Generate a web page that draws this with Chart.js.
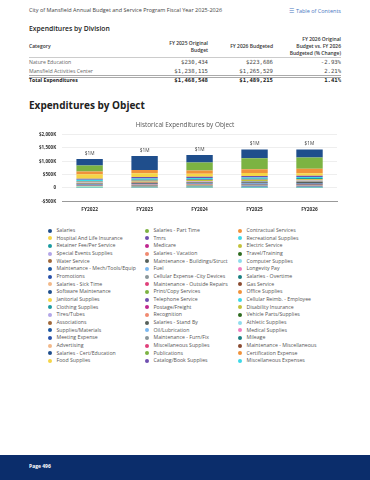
<!DOCTYPE html>
<html>
<head>
<meta charset="utf-8">
<script src="https://cdn.jsdelivr.net/npm/chart.js@4.4.1/dist/chart.umd.min.js"></script>
<style>
    body { margin: 0; width: 370px; height: 480px; position: relative; overflow: hidden; background: #fff; font-family: "Open Sans", sans-serif; }
    .t { position: absolute; white-space: nowrap; line-height: 8px; }
    .r { text-align: right; }
    .num { font-family: "DejaVu Sans Mono", monospace; font-size: 5.6px; color: #444; }
    .hline { position: absolute; left: 29px; width: 312px; }
    #chartBox { position: absolute; left: 29px; top: 113px; }
    #legend { position: absolute; left: 48px; top: 227px; display: grid; grid-template-columns: 97px 93px 100px; }
    .li { height: 7.67px; line-height: 7.67px; font-size: 5.2px; color: #555; white-space: nowrap; display: flex; align-items: center; }
    .dot { width: 4px; height: 4px; border-radius: 50%; margin-right: 4.5px; flex: none; }
    #footer { position: absolute; left: 0; top: 455px; width: 370px; height: 25px; background: #0b2d6b; }
</style>
</head>
<body>

<div class="t" style="left:29px;top:6px;font-size:5.5px;color:#444;">City of Mansfield Annual Budget and Service Program Fiscal Year 2025-2026</div>
<div class="t r" style="right:29px;top:7px;font-size:5.5px;color:#4a78c2;">&#9776; Table of Contents</div>

<div class="t" style="left:29px;top:25px;font-size:6.8px;font-weight:600;color:#222;">Expenditures by Division</div>

<div class="t" style="left:29px;top:42px;font-size:5px;font-weight:600;color:#333;">Category</div>
<div class="t r" style="right:162px;top:39.5px;font-size:5px;font-weight:600;color:#333;line-height:7px;">FY 2025 Original<br>Budget</div>
<div class="t r" style="right:97px;top:42.5px;font-size:5px;font-weight:600;color:#333;line-height:7px;">FY 2026 Budgeted</div>
<div class="t r" style="right:29px;top:35.5px;font-size:5px;font-weight:600;color:#333;line-height:7px;">FY 2026 Original<br>Budget vs. FY 2026<br>Budgeted (% Change)</div>
<div class="hline" style="top:57px;height:1px;background:#ccc;"></div>

<div id="divTable"></div>

<div class="t" style="left:29px;top:99px;font-size:10px;font-weight:700;color:#222;line-height:12px;">Expenditures by Object</div>

<div id="chartBox"><canvas id="objChart" width="312" height="111"></canvas></div>
<div id="legend"></div>

<div id="footer"></div>
<div class="t" style="left:29px;top:461.7px;font-size:5px;font-weight:700;color:#fff;">Page 496</div>

<script>
// Division table
const divisions = ['Nature Education', 'Mansfield Activities Center', 'Total Expenditures'];
const fy25Original = [230434, 1238115, 1468548];
const fy26Budgeted = [223686, 1265529, 1489215];
const pctChange = ['-2.93%', '2.21%', '1.41%'];

// Object chart
const years = ['FY2022', 'FY2023', 'FY2024', 'FY2025', 'FY2026'];
const objectNames = [
    'Salaries', 'Salaries - Part Time', 'Contractual Services',
    'Hospital And Life Insurance', 'Tmrs', 'Recreational Supplies',
    'Retainer Fee/Per Service', 'Medicare', 'Electric Service',
    'Special Events Supplies', 'Salaries - Vacation', 'Travel/Training',
    'Water Service', 'Maintenance - Buildings/Struct', 'Computer Supplies',
    'Maintenance - Mech/Tools/Equip', 'Fuel', 'Longevity Pay',
    'Promotions', 'Cellular Expense -City Devices', 'Salaries - Overtime',
    'Salaries - Sick Time', 'Maintenance - Outside Repairs', 'Gas Service',
    'Software Maintenance', 'Print/Copy Services', 'Office Supplies',
    'Janitorial Supplies', 'Telephone Service', 'Cellular Reimb. - Employee',
    'Clothing Supplies', 'Postage/Freight', 'Disability Insurance',
    'Tires/Tubes', 'Recognition', 'Vehicle Parts/Supplies',
    'Associations', 'Salaries - Stand By', 'Athletic Supplies',
    'Supplies/Materials', 'Oil/Lubrication', 'Medical Supplies',
    'Meeting Expense', 'Maintenance - Furn/Fix', 'Mileage',
    'Advertising', 'Miscellaneous Supplies', 'Maintenance - Miscellaneous',
    'Salaries - Cert/Education', 'Publications', 'Certification Expense',
    'Food Supplies', 'Catalog/Book Supplies', 'Miscellaneous Expenses'
];
// one row per object, FY2022..FY2026
const objectValues = [
    [246000, 528000, 282000, 328000, 305000],
    [223000, 0, 305000, 411000, 422000],
    [106000, 117000, 117000, 141000, 165000],
    [164000, 141000, 117000, 117000, 94000],
    [38000, 60000, 45000, 52000, 48000],
    [45000, 40000, 38000, 42000, 40000],
    [20000, 30000, 30000, 35000, 38000],
    [7000, 8000, 9000, 11000, 11000],
    [35000, 38000, 40000, 42000, 44000],
    [15000, 18000, 25000, 30000, 35000],
    [12000, 14000, 13000, 0, 0],
    [4000, 5000, 6000, 8000, 8000],
    [10000, 11000, 12000, 13000, 14000],
    [25000, 30000, 28000, 30000, 32000],
    [5000, 6000, 5000, 7000, 7000],
    [8000, 9000, 10000, 12000, 12000],
    [3000, 4000, 3500, 4000, 4000],
    [2000, 2200, 2300, 2500, 2600],
    [6000, 7000, 8000, 9000, 9000],
    [2000, 2000, 2500, 3000, 3000],
    [3000, 4000, 3500, 3000, 3000],
    [8000, 9000, 8000, 0, 0],
    [10000, 12000, 15000, 14000, 15000],
    [8000, 10000, 9000, 9500, 10000],
    [12000, 15000, 18000, 20000, 22000],
    [3000, 3000, 3500, 4000, 4000],
    [3000, 3500, 3000, 3500, 3500],
    [8000, 9000, 10000, 11000, 12000],
    [4000, 4000, 4500, 5000, 5000],
    [1500, 1500, 1800, 2000, 2000],
    [2000, 2500, 3000, 3000, 3000],
    [500, 600, 700, 800, 800],
    [1500, 1600, 1700, 1800, 1800],
    [300, 400, 500, 500, 500],
    [1000, 1200, 1500, 1500, 1500],
    [800, 900, 1000, 1200, 1200],
    [1500, 1500, 1800, 2000, 2000],
    [1000, 1000, 1200, 1200, 1200],
    [6000, 7000, 8000, 9000, 9000],
    [10000, 12000, 14000, 15000, 16000],
    [200, 300, 300, 400, 400],
    [500, 600, 700, 800, 800],
    [800, 1000, 1200, 1500, 1500],
    [3000, 3500, 4000, 4500, 5000],
    [300, 400, 500, 500, 500],
    [8000, 9000, 10000, 12000, 12000],
    [2000, 2500, 3000, 3000, 3000],
    [2000, 2500, 3000, 3500, 3500],
    [1000, 1200, 1300, 1400, 1400],
    [200, 300, 300, 300, 300],
    [500, 600, 700, 800, 800],
    [4000, 5000, 6000, 7000, 7000],
    [300, 300, 400, 400, 400],
    [1000, 1200, 1500, 1500, 1500]
];
const yTicks = [-500000, 0, 500000, 1000000, 1500000, 2000000];

const palette = [
    '#1f4e8c', '#7cb342', '#f0923a', '#f5d547', '#6f4fb0', '#3dd9e8',
    '#1a9ba0', '#c0268f', '#c2c23a', '#b3a6e8', '#f08a70', '#2e6b1f',
    '#a0683a', '#56605a', '#8fdcec', '#1b56a0', '#7ab8f0', '#f07ec0',
    '#2850a8', '#8a9599', '#1a7f80', '#f2b98a', '#e0407a', '#8a4a30'
];

function money(v) {
    return '$' + v.toLocaleString('en-US');
}

function buildTable() {
    const centers = [62, 70.7, 80];
    let html = '';
    divisions.forEach((name, i) => {
        const top = centers[i] - 4;
        const bold = i === divisions.length - 1;
        const w = bold ? 'font-weight:700;color:#222;' : '';
        const nameStyle = bold ? 'font-weight:700;color:#222;' : 'color:#666;';
        html += `<div class="t" style="left:29px;top:${top}px;font-size:5.2px;${nameStyle}">${name}</div>`;
        html += `<div class="t r num" style="right:162px;top:${top}px;${w}">${money(fy25Original[i])}</div>`;
        html += `<div class="t r num" style="right:97px;top:${top}px;${w}">${money(fy26Budgeted[i])}</div>`;
        html += `<div class="t r num" style="right:29px;top:${top}px;${w}">${pctChange[i]}</div>`;
    });
    html += '<div class="hline" style="top:74.5px;height:0;border-top:3px double #aaa;"></div>';
    document.getElementById('divTable').innerHTML = html;
}

// totals above each stack
const totalLabels = {
    id: 'totalLabels',
    afterDatasetsDraw(chart) {
        const ctx = chart.ctx;
        const yScale = chart.scales.y;
        const meta = chart.getDatasetMeta(0);
        ctx.save();
        ctx.font = '500 4.8px "Open Sans"';
        ctx.fillStyle = '#444';
        ctx.textAlign = 'center';
        ctx.textBaseline = 'middle';
        years.forEach((yr, i) => {
            const total = objectValues.reduce((s, row) => s + row[i], 0);
            const x = meta.data[i].x;
            ctx.fillText('$' + Math.round(total / 1e6) + 'M', x, yScale.getPixelForValue(total) - 5.7);
        });
        ctx.restore();
    }
};

function buildChart() {
    // first object sits on top of the stack, so feed datasets in reverse
    const datasets = objectNames.map((name, i) => ({
        label: name,
        data: objectValues[i],
        backgroundColor: palette[i % palette.length],
        borderWidth: 0,
        categoryPercentage: 0.6,
        barPercentage: 0.8
    })).reverse();

    new Chart(document.getElementById('objChart'), {
        type: 'bar',
        data: { labels: years, datasets: datasets },
        options: {
            responsive: false,
            animation: false,
            layout: { padding: { left: 4, right: 4, top: 0, bottom: 5 } },
            plugins: {
                legend: { display: false },
                tooltip: { enabled: false },
                title: {
                    display: true,
                    text: 'Historical Expenditures by Object',
                    color: '#555',
                    font: { family: 'Open Sans', size: 6.4, weight: '500' },
                    padding: { top: 8, bottom: 6 }
                }
            },
            scales: {
                x: {
                    stacked: true,
                    grid: { display: false, drawTicks: false },
                    border: { display: true, color: '#999' },
                    ticks: {
                        color: '#333',
                        padding: 6,
                        font: { family: 'Open Sans', size: 4.8, weight: '700' }
                    }
                },
                y: {
                    stacked: true,
                    min: yTicks[0],
                    max: yTicks[yTicks.length - 1],
                    afterBuildTicks: axis => {
                        axis.ticks = yTicks.map(v => ({ value: v }));
                    },
                    grid: { color: '#eeeeee', drawTicks: false },
                    border: { display: false },
                    ticks: {
                        color: '#333',
                        padding: 6,
                        font: { family: 'Open Sans', size: 4.5, weight: '700' },
                        callback: v => v === 0 ? '0' : (v < 0 ? '-' : '') + '$' + Math.abs(v / 1000).toLocaleString('en-US') + 'K'
                    }
                }
            }
        },
        plugins: [totalLabels]
    });
}

function buildLegend() {
    document.getElementById('legend').innerHTML = objectNames.map((name, i) => `
        <div class="li"><span class="dot" style="background:${palette[i % palette.length]}"></span>${name}</div>
    `).join('');
}

document.addEventListener('DOMContentLoaded', function() {
    buildTable();
    buildChart();
    buildLegend();
});
</script>
</body>
</html>
